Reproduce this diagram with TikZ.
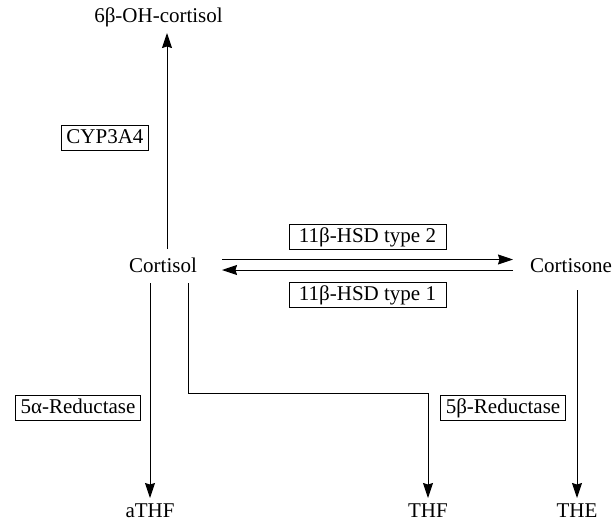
\documentclass[tikz,border=0pt]{standalone}
\usepackage{fontspec}
\setmainfont{Liberation Serif}
\usetikzlibrary{arrows.meta}
\begin{document}
\begin{tikzpicture}[x=1pt,y=-1pt,
  txt/.style={font=\fontsize{21}{24}\selectfont, inner sep=0pt, text height=14.5pt, text depth=4.5pt},
  enzbox/.style={txt, draw, line width=0.9pt, inner xsep=5pt, inner ysep=3pt},
  conn/.style={line width=1pt, -{Stealth[length=15pt,width=10pt,inset=1.5pt]}}]
\useasboundingbox (0,0) rectangle (614,523);
% nodes
\node[txt] (ohc) at (158.5,17) {6β-OH-cortisol};
\node[txt] (cortisol) at (163,267) {Cortisol};
\node[txt] (cortisone) at (571,267) {Cortisone};
\node[txt] (athf) at (150,512) {aTHF};
\node[txt] (thf) at (428,512) {THF};
\node[txt] (the) at (577,512) {THE};
\node[enzbox] (cyp) at (105,138) {CYP3A4};
\node[enzbox, minimum width=157pt] (hsd2) at (367.5,237) {11β-HSD type 2};
\node[enzbox, minimum width=157pt] (hsd1) at (367.5,295) {11β-HSD type 1};
\node[enzbox] (r5a) at (78,408) {5α-Reductase};
\node[enzbox] (r5b) at (503,408) {5β-Reductase};
% connector coordinates
\coordinate (upS) at (167,249);
\coordinate (upE) at (167,33);
\coordinate (h2S) at (222,259.5);
\coordinate (h2E) at (513,259.5);
\coordinate (h1S) at (513,270);
\coordinate (h1E) at (222,270);
\coordinate (aS) at (150,283);
\coordinate (aE) at (150,498);
\coordinate (tS) at (188,283);
\coordinate (tK) at (188,393);
\coordinate (tE) at (428,498);
\coordinate (eS) at (577,290);
\coordinate (eE) at (577,498);
% connectors
\draw[conn] (upS) -- (upE);
\draw[conn] (h2S) -- (h2E);
\draw[conn] (h1S) -- (h1E);
\draw[conn] (aS) -- (aE);
\draw[conn] (tS) -- (tK) -| (tE);
\draw[conn] (eS) -- (eE);
\end{tikzpicture}
\end{document}
